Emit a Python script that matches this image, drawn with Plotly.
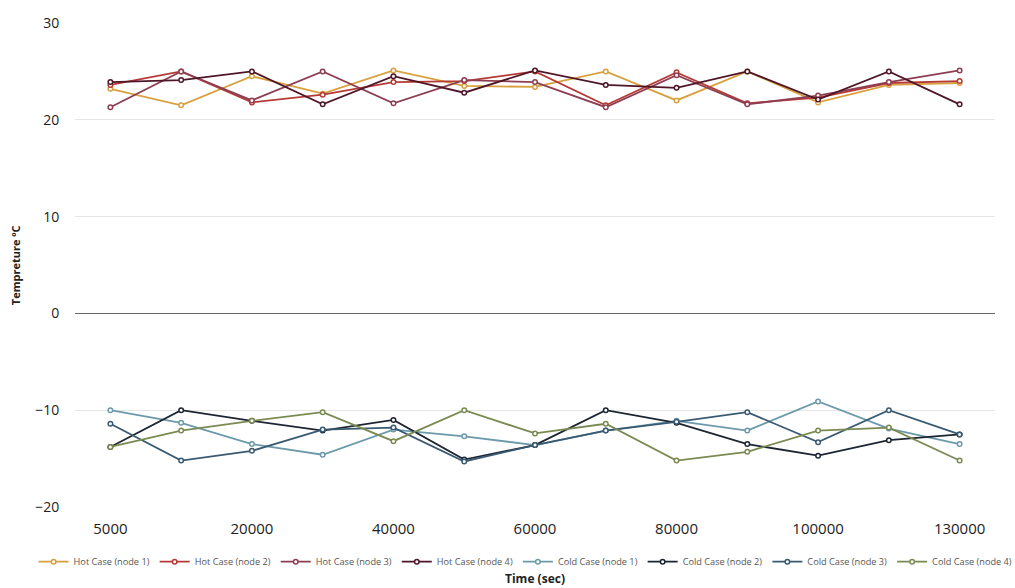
import plotly.graph_objects as go

time_sec = ["5000", "10000", "20000", "30000", "40000", "50000", "60000",
            "70000", "80000", "90000", "100000", "120000", "130000"]
tick_labels_shown = ["5000", "20000", "40000", "60000", "80000", "100000", "130000"]

hot_node1 = [23.2, 21.5, 24.5, 22.7, 25.1, 23.5, 23.4, 25.0, 22.0, 25.0, 21.8, 23.6, 23.8]
hot_node2 = [23.6, 25.0, 21.8, 22.6, 23.9, 24.0, 25.0, 21.5, 24.9, 21.7, 22.3, 23.8, 24.0]
hot_node3 = [21.3, 25.0, 22.0, 25.0, 21.7, 24.1, 23.9, 21.3, 24.6, 21.6, 22.5, 23.9, 25.1]
hot_node4 = [23.9, 24.1, 25.0, 21.6, 24.5, 22.8, 25.1, 23.6, 23.3, 25.0, 22.1, 25.0, 21.6]

cold_node1 = [-10.0, -11.3, -13.5, -14.6, -12.0, -12.7, -13.6, -12.1, -11.1, -12.1, -9.1, -11.9, -13.5]
cold_node2 = [-13.8, -10.0, -11.1, -12.1, -11.0, -15.1, -13.6, -10.0, -11.3, -13.5, -14.7, -13.1, -12.5]
cold_node3 = [-11.4, -15.2, -14.2, -12.0, -11.8, -15.3, -13.6, -12.1, -11.2, -10.2, -13.3, -10.0, -12.5]
cold_node4 = [-13.8, -12.1, -11.1, -10.2, -13.2, -10.0, -12.4, -11.4, -15.2, -14.3, -12.1, -11.8, -15.2]

series = [
    ("Hot Case (node 1)", hot_node1, "#d8a03e"),
    ("Hot Case (node 2)", hot_node2, "#b53a36"),
    ("Hot Case (node 3)", hot_node3, "#8e3e52"),
    ("Hot Case (node 4)", hot_node4, "#4e1626"),
    ("Cold Case (node 1)", cold_node1, "#6c9aab"),
    ("Cold Case (node 2)", cold_node2, "#1c2531"),
    ("Cold Case (node 3)", cold_node3, "#3a5a72"),
    ("Cold Case (node 4)", cold_node4, "#7a8a52"),
]

fig = go.Figure()
for name, vals, col in series:
    fig.add_trace(go.Scatter(
        x=time_sec, y=vals, name=name, mode="lines+markers",
        line=dict(color=col, width=1.8),
        marker=dict(symbol="circle", size=4.5, color="white",
                    line=dict(color=col, width=1.5)),
    ))

fig.update_layout(
    width=1015, height=588,
    margin=dict(l=75, r=20, t=23, b=81, autoexpand=False),
    plot_bgcolor="white", paper_bgcolor="white",
    font=dict(family="Open Sans, Noto Sans, sans-serif", color="#222"),
    showlegend=True,
    legend=dict(orientation="h", x=-0.045, xanchor="left", y=-0.083, yanchor="top",
                font=dict(size=9.2, color="#555"), itemwidth=30,
                tracegroupgap=0, bgcolor="rgba(0,0,0,0)"),
    annotations=[
        dict(text="<b>Time (sec)</b>", x=0.5, y=-0.125, xref="paper", yref="paper",
             xanchor="center", yanchor="top", showarrow=False,
             font=dict(size=12, color="#222")),
        dict(text="<b>Tempreture ºC</b>", x=-0.065, y=0.5, xref="paper", yref="paper",
             xanchor="center", yanchor="middle", showarrow=False, textangle=-90,
             font=dict(size=11, color="#222")),
    ],
)
fig.update_xaxes(
    type="category", range=[-0.5, 12.5],
    tickmode="array", tickvals=tick_labels_shown, ticktext=tick_labels_shown,
    showgrid=False, showline=False, zeroline=False,
    tickfont=dict(size=15, color="#222"), ticks="outside", ticklen=8, tickcolor="rgba(0,0,0,0)",
)
fig.update_yaxes(
    range=[-20, 30], tickvals=[-20, -10, 0, 10, 20, 30],
    showgrid=True, gridcolor="#e6e6e6", gridwidth=1,
    zeroline=True, zerolinecolor="#666", zerolinewidth=1,
    tickfont=dict(size=14, color="#222"),
    ticks="outside", ticklen=12, tickcolor="rgba(0,0,0,0)", showline=False,
)

fig.write_html("out.html", config={"displayModeBar": False},
               post_script="document.body.style.margin='0';")
